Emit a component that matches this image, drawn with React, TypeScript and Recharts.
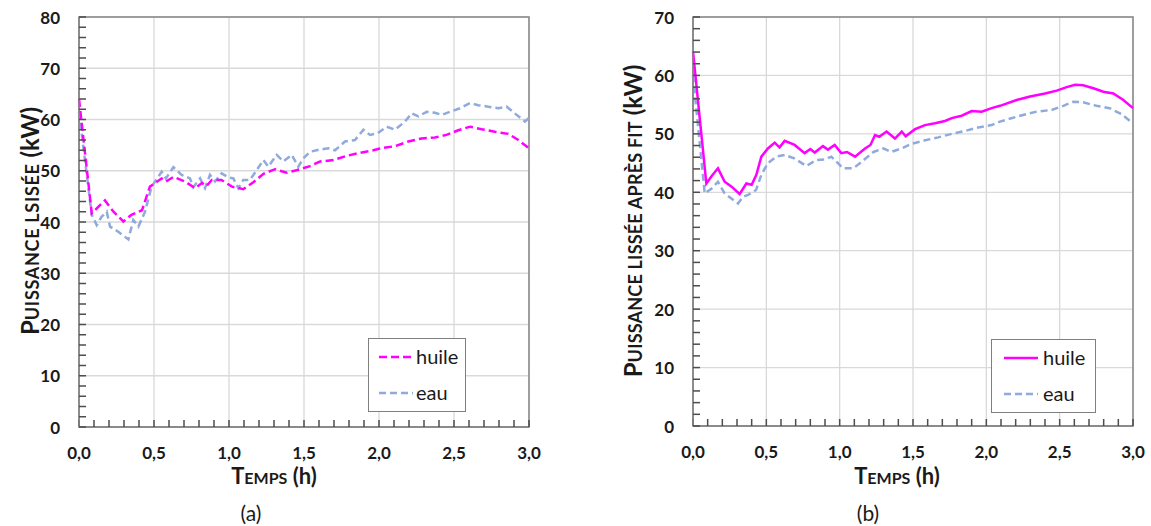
import { LineChart, Line, XAxis, YAxis, CartesianGrid, ReferenceArea } from 'recharts';

const FONT = 'Lato, "Open Sans", sans-serif';
const HUILE_COLOR = '#FF00FF';
const EAU_COLOR = '#8FAADC';
const GRID = '#d9d9d9';
const AXIS = '#868686';
const TICK = '#4d4d4d';

// (a) puissance lissée
const TIME_HUILE_A = [0, 0.085, 0.13, 0.173, 0.23, 0.296, 0.35, 0.42, 0.473, 0.55, 0.58, 0.63, 0.707, 0.773, 0.82, 0.85, 0.885, 0.95, 1.02, 1.095, 1.16, 1.23, 1.307, 1.385, 1.45, 1.54, 1.607, 1.696, 1.785, 1.873, 1.962, 2.018, 2.107, 2.195, 2.284, 2.373, 2.45, 2.529, 2.607, 2.684, 2.773, 2.862, 2.929, 3.0];
const HUILE_A = [64, 41.7, 43, 44.2, 42, 40.1, 41.4, 42.3, 46.9, 48.5, 47.9, 48.8, 47.9, 46.6, 47.6, 47, 48.2, 48.2, 46.9, 46.4, 47.7, 49.4, 50.3, 49.6, 50.1, 50.9, 51.8, 52.1, 52.9, 53.5, 54.0, 54.4, 54.8, 55.7, 56.3, 56.5, 57.0, 57.9, 58.6, 58.1, 57.6, 57.2, 56.0, 54.4];

const TIME_EAU_A = [0, 0.085, 0.118, 0.15, 0.185, 0.207, 0.262, 0.329, 0.362, 0.396, 0.44, 0.484, 0.551, 0.58, 0.629, 0.684, 0.74, 0.762, 0.807, 0.84, 0.873, 0.907, 0.951, 0.996, 1.029, 1.062, 1.095, 1.14, 1.184, 1.229, 1.262, 1.318, 1.362, 1.418, 1.462, 1.495, 1.54, 1.6, 1.662, 1.707, 1.773, 1.84, 1.896, 1.94, 1.99, 2.051, 2.107, 2.173, 2.218, 2.262, 2.318, 2.373, 2.418, 2.473, 2.54, 2.607, 2.662, 2.729, 2.796, 2.851, 2.918, 2.973, 3.0];
const EAU_A = [61.5, 41.4, 39.4, 41, 42, 39.1, 38.1, 36.6, 40.4, 39.1, 42, 46.9, 49.8, 48.5, 50.7, 49.2, 48.5, 46.8, 48.5, 46.6, 49.2, 47.9, 49.5, 48.7, 48.5, 46.6, 48.2, 48.2, 50.1, 52.1, 50.8, 53.1, 51.8, 53.1, 50.8, 52.4, 53.7, 54.1, 54.4, 54.0, 55.7, 56, 58, 57, 57.3, 58.6, 58, 59.6, 61.2, 60.6, 61.5, 61.3, 60.9, 61.5, 62.2, 63.2, 62.8, 62.5, 62.2, 62.5, 60.9, 59.6, 60.3];

// (b) puissance lissée après fit
const TIME_HUILE_B = [0, 0.091, 0.125, 0.17, 0.216, 0.261, 0.318, 0.364, 0.4, 0.432, 0.466, 0.511, 0.557, 0.59, 0.625, 0.693, 0.761, 0.8, 0.83, 0.886, 0.92, 0.966, 1.011, 1.05, 1.105, 1.173, 1.21, 1.241, 1.27, 1.32, 1.377, 1.423, 1.45, 1.514, 1.582, 1.65, 1.718, 1.764, 1.832, 1.9, 1.968, 2.036, 2.093, 2.207, 2.298, 2.4, 2.48, 2.548, 2.605, 2.66, 2.73, 2.798, 2.866, 2.934, 3.0];
const HUILE_B = [64.1, 41.5, 42.7, 44.1, 41.8, 41.0, 39.7, 41.5, 41.3, 43.0, 46.1, 47.5, 48.5, 47.7, 48.8, 48.1, 46.7, 47.4, 46.8, 47.9, 47.3, 48.1, 46.7, 46.9, 46.1, 47.5, 48.1, 49.8, 49.5, 50.4, 49.2, 50.4, 49.6, 50.8, 51.5, 51.8, 52.2, 52.7, 53.1, 53.9, 53.8, 54.4, 54.8, 55.8, 56.4, 56.9, 57.4, 58.0, 58.4, 58.3, 57.8, 57.2, 56.9, 55.8, 54.4];

const TIME_EAU_B = [0, 0.08, 0.125, 0.17, 0.216, 0.307, 0.34, 0.386, 0.43, 0.466, 0.511, 0.568, 0.625, 0.69, 0.773, 0.84, 0.9, 0.943, 1.023, 1.093, 1.15, 1.23, 1.298, 1.35, 1.42, 1.491, 1.582, 1.673, 1.764, 1.855, 1.945, 2.036, 2.093, 2.23, 2.343, 2.445, 2.525, 2.593, 2.66, 2.75, 2.84, 2.92, 3.0];
const EAU_B = [60, 39.8, 40.6, 41.8, 39.8, 38.1, 39.2, 39.7, 40.4, 43.0, 45.0, 46.1, 46.4, 45.8, 44.5, 45.5, 45.6, 46.1, 44.1, 44.1, 45.2, 46.9, 47.5, 46.9, 47.5, 48.3, 48.9, 49.4, 50.0, 50.5, 51.1, 51.5, 52.1, 53.1, 53.8, 54.1, 54.8, 55.5, 55.4, 54.8, 54.4, 53.4, 51.8];

const X_MAJOR = [0, 0.5, 1, 1.5, 2, 2.5, 3];
const X_MINOR = Array.from({ length: 31 }, (_, i) => i / 10);
const Y_MAJOR_A = [0, 10, 20, 30, 40, 50, 60, 70, 80];
const Y_MINOR_A = Array.from({ length: 41 }, (_, i) => i * 2);
const Y_MAJOR_B = [0, 10, 20, 30, 40, 50, 60, 70];
const Y_MINOR_B = Array.from({ length: 36 }, (_, i) => i * 2);

const toPoints = (ts: number[], vs: number[]) => ts.map((t, i) => ({ t, v: vs[i] }));

// tick lines come from the axis itself (negative tickSize = inward), labels only on majors
function XTick(props: any) {
  const { x, y, payload } = props;
  const v = payload.value as number;
  const major = Math.abs(v * 2 - Math.round(v * 2)) < 1e-6;
  if (!major) return <g />;
  return (
    <text x={x} y={y + 25} textAnchor="middle" dominantBaseline="central" fontFamily={FONT} fontWeight={700} fontSize={17} fill="#1a1a1a">
      {v.toFixed(1).replace('.', ',')}
    </text>
  );
}

function YTick(props: any) {
  const { x, y, payload } = props;
  const v = payload.value as number;
  if (v % 10 !== 0) return <g />;
  return (
    <text x={x - 19} y={y} textAnchor="end" dominantBaseline="central" fontFamily={FONT} fontWeight={700} fontSize={17} fill="#1a1a1a">
      {v}
    </text>
  );
}

interface Entry { name: string; color: string; dash?: string }

function LegendBox({ left, top, width, entries, sampleLeft, textLeft }: { left: number; top: number; width: number; entries: Entry[]; sampleLeft: number; textLeft: number }) {
  return (
    <div style={{ position: 'absolute', left, top, width, height: 74, boxSizing: 'border-box', border: '1.5px solid #7f7f7f', background: '#fff' }}>
      {entries.map((e, i) => (
        <div key={e.name} style={{ position: 'absolute', left: 0, top: i === 0 ? 18 : 54, width: '100%' }}>
          <svg width={36} height={4} style={{ position: 'absolute', left: sampleLeft, top: -2 }}>
            <line x1={0} y1={2} x2={34} y2={2} stroke={e.color} strokeWidth={2.5} strokeDasharray={e.dash} />
          </svg>
          <span style={{ position: 'absolute', left: textLeft, top: -13, fontFamily: FONT, fontSize: 20, lineHeight: '24px', color: '#1a1a1a' }}>{e.name}</span>
        </div>
      ))}
    </div>
  );
}

interface PanelProps {
  left: number;
  width: number;
  yAxisWidth: number;
  right: number;
  xAxisHeight: number;
  yMax: number;
  yMajor: number[];
  yMinor: number[];
  huile: { t: number; v: number }[];
  eau: { t: number; v: number }[];
  huileDash?: string;
}

function Panel(p: PanelProps) {
  return (
    <div style={{ position: 'absolute', left: p.left, top: 0 }}>
      <LineChart width={p.width} height={526} margin={{ top: 17, right: p.right, bottom: 0, left: 0 }}>
        <CartesianGrid stroke={GRID} strokeWidth={1.3} horizontalValues={p.yMajor} verticalValues={X_MAJOR} />
        <ReferenceArea x1={0} x2={3} y1={0} y2={p.yMax} fill="none" stroke={AXIS} strokeWidth={1.5} ifOverflow="visible" />
        <XAxis
          dataKey="t"
          type="number"
          domain={[0, 3]}
          ticks={X_MINOR}
          interval={0}
          height={p.xAxisHeight}
          tickSize={-7}
          tickMargin={7}
          tickLine={{ stroke: TICK, strokeWidth: 1.5 }}
          axisLine={{ stroke: AXIS, strokeWidth: 1.5 }}
          tick={(props: any) => <XTick {...props} />}
        />
        <YAxis
          type="number"
          domain={[0, p.yMax]}
          ticks={p.yMinor}
          interval={0}
          width={p.yAxisWidth}
          tickSize={-7}
          tickMargin={7}
          tickLine={{ stroke: TICK, strokeWidth: 1.5 }}
          axisLine={{ stroke: AXIS, strokeWidth: 1.5 }}
          tick={(props: any) => <YTick {...props} />}
        />
        <Line data={p.eau} dataKey="v" name="eau" type="linear" dot={false} stroke={EAU_COLOR} strokeWidth={2.5} strokeDasharray="7 4" isAnimationActive={false} />
        <Line data={p.huile} dataKey="v" name="huile" type="linear" dot={false} stroke={HUILE_COLOR} strokeWidth={2.5} strokeDasharray={p.huileDash} isAnimationActive={false} />
      </LineChart>
    </div>
  );
}

const titleStyle: React.CSSProperties = {
  position: 'absolute',
  fontFamily: FONT,
  fontWeight: 700,
  color: '#1a1a1a',
  whiteSpace: 'nowrap',
  lineHeight: 1,
};

function YTitle({ x, y, small, spacing }: { x: number; y: number; small: string; spacing: number }) {
  return (
    <div style={{ ...titleStyle, left: x, top: y, transform: 'translate(-50%, -50%) rotate(-90deg)', fontSize: 24 }}>
      P<span style={{ fontSize: 18, letterSpacing: spacing }}>{small}</span> (kW)
    </div>
  );
}

function XTitle({ x, y }: { x: number; y: number }) {
  return (
    <div style={{ ...titleStyle, left: x, top: y, transform: 'translate(-50%, -50%)', fontSize: 22 }}>
      T<span style={{ fontSize: 16 }}>EMPS</span> (h)
    </div>
  );
}

function Caption({ x, y, text }: { x: number; y: number; text: string }) {
  return (
    <div style={{ ...titleStyle, fontWeight: 400, fontSize: 21, left: x, top: y, transform: 'translate(-50%, -50%)' }}>{text}</div>
  );
}

const ENTRIES_A: Entry[] = [
  { name: 'huile', color: HUILE_COLOR, dash: '8 4' },
  { name: 'eau', color: EAU_COLOR, dash: '7 4' },
];
const ENTRIES_B: Entry[] = [
  { name: 'huile', color: HUILE_COLOR },
  { name: 'eau', color: EAU_COLOR, dash: '7 4' },
];

export default function App() {
  return (
    <div style={{ position: 'absolute', left: 0, top: 0, width: 1151, height: 526, background: '#fff', overflow: 'hidden' }}>
      <Panel
        left={0}
        width={560}
        yAxisWidth={79}
        right={31}
        xAxisHeight={99}
        yMax={80}
        yMajor={Y_MAJOR_A}
        yMinor={Y_MINOR_A}
        huile={toPoints(TIME_HUILE_A, HUILE_A)}
        eau={toPoints(TIME_EAU_A, EAU_A)}
        huileDash="8 4"
      />
      <Panel
        left={580}
        width={571}
        yAxisWidth={113}
        right={18}
        xAxisHeight={100}
        yMax={70}
        yMajor={Y_MAJOR_B}
        yMinor={Y_MINOR_B}
        huile={toPoints(TIME_HUILE_B, HUILE_B)}
        eau={toPoints(TIME_EAU_B, EAU_B)}
      />
      <LegendBox left={368} top={338} width={98} entries={ENTRIES_A} sampleLeft={10} textLeft={47} />
      <LegendBox left={991} top={339} width={105} entries={ENTRIES_B} sampleLeft={12} textLeft={51} />
      <YTitle x={30} y={221} small="UISSANCE LSISÉE" spacing={0.7} />
      <YTitle x={633} y={221} small="UISSANCE LISSÉE APRÈS FIT" spacing={0.2} />
      <XTitle x={274} y={476} />
      <XTitle x={897} y={476} />
      <Caption x={251} y={512} text="(a)" />
      <Caption x={868} y={512} text="(b)" />
    </div>
  );
}
